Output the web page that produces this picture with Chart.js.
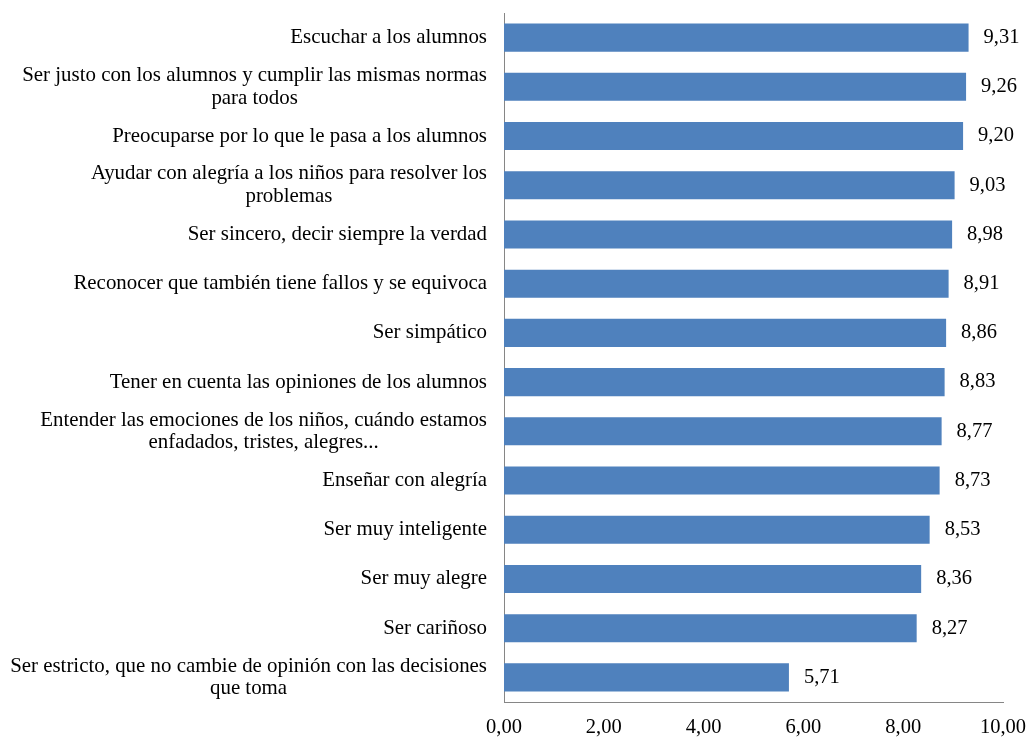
<!DOCTYPE html>
<html>
<head>
<meta charset="utf-8">
<script src="https://cdn.jsdelivr.net/npm/chart.js@4/dist/chart.umd.min.js"></script>
<style>
    body { margin: 0; background: #fff; }
    canvas { display: block; }
</style>
</head>
<body>
<canvas id="barChart" width="1028" height="737"></canvas>
<script>
// Cualidades valoradas del profesor (media sobre 10)
const categories = [
    ['Escuchar a los alumnos'],
    ['Ser justo con los alumnos y cumplir las mismas normas', 'para todos'],
    ['Preocuparse por lo que le pasa a los alumnos'],
    ['Ayudar con alegría a los niños para resolver los', 'problemas'],
    ['Ser sincero, decir siempre la verdad'],
    ['Reconocer que también tiene fallos y se equivoca'],
    ['Ser simpático'],
    ['Tener en cuenta las opiniones de los alumnos'],
    ['Entender las emociones de los niños, cuándo estamos', 'enfadados, tristes, alegres...'],
    ['Enseñar con alegría'],
    ['Ser muy inteligente'],
    ['Ser muy alegre'],
    ['Ser cariñoso'],
    ['Ser estricto, que no cambie de opinión con las decisiones', 'que toma']
];
const values = [9.31, 9.26, 9.20, 9.03, 8.98, 8.91, 8.86, 8.83, 8.77, 8.73, 8.53, 8.36, 8.27, 5.71];
const xTicks = [0, 2, 4, 6, 8, 10];

const FONT = '"Liberation Serif", "Times New Roman", serif';
const FONT_SIZE = 20.5;
const LABEL_SIZE = 20.9;
const LINE_H = 22.5;

function formatNum(v) {
    return v.toFixed(2).replace('.', ',');
}

// Etiquetas de categoría: bloque alineado a la derecha, líneas centradas entre sí
const categoryLabels = {
    id: 'categoryLabels',
    afterDraw(chart) {
        const ctx = chart.ctx;
        const yScale = chart.scales.y;
        const right = chart.chartArea.left - 17;
        ctx.save();
        ctx.font = LABEL_SIZE + 'px ' + FONT;
        ctx.fillStyle = '#000';
        ctx.textAlign = 'center';
        ctx.textBaseline = 'middle';
        categories.forEach((lines, i) => {
            const y = yScale.getPixelForTick(i);
            const maxW = Math.max(...lines.map(l => ctx.measureText(l).width));
            const cx = right - maxW / 2;
            const startY = y - (lines.length - 1) * LINE_H / 2;
            lines.forEach((line, j) => ctx.fillText(line, cx, startY + j * LINE_H));
        });
        ctx.restore();
    }
};

// Valor al final de cada barra
const valueLabels = {
    id: 'valueLabels',
    afterDatasetsDraw(chart) {
        const ctx = chart.ctx;
        const meta = chart.getDatasetMeta(0);
        ctx.save();
        ctx.font = FONT_SIZE + 'px ' + FONT;
        ctx.fillStyle = '#000';
        ctx.textAlign = 'left';
        ctx.textBaseline = 'middle';
        meta.data.forEach((bar, i) => {
            ctx.fillText(formatNum(values[i]), bar.x + 15, bar.y);
        });
        ctx.restore();
    }
};

new Chart(document.getElementById('barChart').getContext('2d'), {
    type: 'bar',
    data: {
        labels: categories,
        datasets: [{
            data: values,
            backgroundColor: '#4F81BD',
            borderWidth: 0,
            categoryPercentage: 1,
            barPercentage: 0.57
        }]
    },
    options: {
        indexAxis: 'y',
        responsive: false,
        animation: false,
        layout: { padding: { top: 13, right: 25, bottom: 0, left: 0 } },
        plugins: {
            legend: { display: false },
            tooltip: { enabled: false }
        },
        scales: {
            x: {
                min: 0,
                max: 10,
                afterBuildTicks: scale => { scale.ticks = xTicks.map(v => ({ value: v })); },
                afterFit: scale => {
                    scale.height = 35;
                    scale.paddingLeft = 0;
                    scale.paddingRight = 0;
                },
                grid: { display: false, drawTicks: false },
                border: { display: true, color: '#868686', width: 1 },
                ticks: {
                    padding: 13,
                    color: '#000',
                    font: { family: FONT, size: FONT_SIZE },
                    callback: v => formatNum(v)
                }
            },
            y: {
                afterFit: scale => { scale.width = 504; },
                grid: { display: false, drawTicks: false },
                border: { display: true, color: '#868686', width: 1 },
                ticks: { display: false }
            }
        }
    },
    plugins: [categoryLabels, valueLabels]
});
</script>
</body>
</html>
